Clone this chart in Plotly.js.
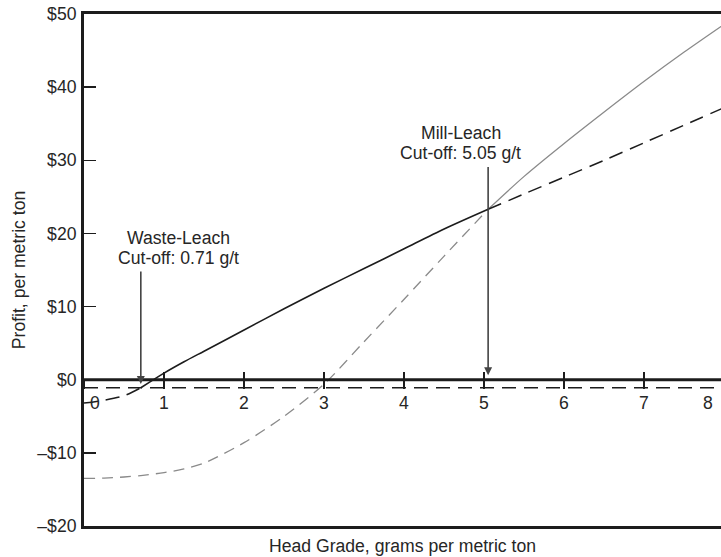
<!DOCTYPE html>
<html>
<head>
<meta charset="utf-8">
<script src="https://cdn.plot.ly/plotly-3.0.1.min.js"></script>
<style>
  html, body { margin: 0; padding: 0; background: #fff; }
  #chart { width: 721px; height: 557px; }
</style>
</head>
<body>
<div id="chart"></div>
<script>
// Head grade (g/t) at which the profit curves are sampled
const grade = [0, 0.25, 0.5, 0.71, 1, 1.25, 1.5, 2, 2.5, 3, 3.5, 4, 4.5, 5.05, 5.5, 6, 6.5, 7, 7.5, 8];
// Profit per metric ton when the ore is heap leached
const leachProfit = [-3.2, -2.8, -2.2, -1.1, 0.9, 2.45, 3.9, 6.8, 9.7, 12.5, 15.2, 17.9, 20.6, 23.3, 25.4, 27.7, 30.0, 32.4, 34.8, 37.2];
// Profit per metric ton when the ore is milled and leached
const millProfit = [-13.5, -13.45, -13.3, -13.1, -12.7, -12.2, -11.4, -8.6, -5.0, -0.6, 5.2, 11.0, 16.9, 23.3, 27.8, 32.3, 36.6, 40.8, 44.8, 48.6];
// Profit per metric ton when the material goes to the waste dump
const wasteGrade = [0, 8];
const wasteProfit = [-1.1, -1.1];
// Break-even level
const zeroGrade = [0, 8];
const zeroProfit = [0, 0];

// Cut-off grades
const wasteLeachCutoff = 0.71;
const millLeachCutoff = 5.05;

// Axis ticks
const xTickVals = [0, 1, 2, 3, 4, 5, 6, 7, 8];
const xTickText = ['0', '1', '2', '3', '4', '5', '6', '7', '8'];
const yTickVals = [-20, -10, 0, 10, 20, 30, 40, 50];
const yTickText = ['\u2013$20', '\u2013$10', '$0', '$10', '$20', '$30', '$40', '$50'];

const FONT = 'Liberation Sans, Arial, Helvetica, sans-serif';
const TEXT = '#262626';
const INK = '#1c1c1c';
const GREY = '#8a8a8a';
const FS = 17.6;

const xMax = 7.96;
const yMin = -20, yMax = 50;
const zeroPos = (0 - yMin) / (yMax - yMin);

// Pick the part of a curve lying between two grades
function segment(xs, ys, lo, hi) {
  const sx = [], sy = [];
  xs.forEach((g, i) => { if (g >= lo && g <= hi) { sx.push(g); sy.push(ys[i]); } });
  return { x: sx, y: sy };
}

function line(seg, color, width, dash) {
  return {
    type: 'scatter', mode: 'lines', x: seg.x, y: seg.y,
    line: { color: color, width: width, dash: dash, shape: 'spline', smoothing: 0.8 },
    hoverinfo: 'skip', showlegend: false
  };
}

const traces = [
  line({ x: wasteGrade, y: wasteProfit }, INK, 1.5, '14px,8px'),
  line(segment(grade, millProfit, 0, millLeachCutoff), GREY, 1.3, '11px,7px'),
  line(segment(grade, millProfit, millLeachCutoff, 8), GREY, 1.3, 'solid'),
  line(segment(grade, leachProfit, 0, wasteLeachCutoff), INK, 1.5, '14px,8px'),
  line(segment(grade, leachProfit, wasteLeachCutoff, millLeachCutoff), INK, 1.6, 'solid'),
  line(segment(grade, leachProfit, millLeachCutoff, 8), INK, 1.5, '14px,8px'),
  line({ x: zeroGrade, y: zeroProfit }, INK, 3, 'solid'),
  // carriers for the extra x axes
  { type: 'scatter', x: [], y: [], xaxis: 'x2', showlegend: false, hoverinfo: 'skip' },
  { type: 'scatter', x: [], y: [], xaxis: 'x3', showlegend: false, hoverinfo: 'skip' }
];

const annotations = [];
// x tick labels sit just under the break-even axis; placed on paper so the last one
// still shows when its grade lies past the right edge
xTickVals.forEach((v, i) => {
  annotations.push({
    x: v / xMax, y: 0, xref: 'paper', yref: 'y', text: xTickText[i], showarrow: false,
    xanchor: 'center', yanchor: 'top', yshift: -11,
    xshift: i === 0 ? 11 : (i === xTickVals.length - 1 ? -16 : 0),
    font: { family: FONT, size: FS, color: TEXT }
  });
});

function cutoffNote(label, cutoff, textX, textY, tailY, tipY) {
  const lines = [label, 'Cut-off: ' + cutoff.toFixed(2) + ' g/t'];
  lines.forEach((t, i) => {
    annotations.push({
      x: textX, y: textY, xref: 'x', yref: 'y', showarrow: false, text: t,
      xanchor: 'center', yanchor: 'middle', yshift: i === 0 ? 10 : -10,
      font: { family: FONT, size: FS, color: TEXT }
    });
  });
  annotations.push({
    x: cutoff, y: tipY, ax: cutoff, ay: tailY, xref: 'x', yref: 'y', axref: 'x', ayref: 'y',
    text: '', showarrow: true, arrowhead: 2, arrowsize: 1, arrowwidth: 1.6, arrowcolor: '#444', standoff: 0
  });
}
cutoffNote('Waste-Leach', wasteLeachCutoff, 1.175, 18.0, 15.0, -0.6);
cutoffNote('Mill-Leach', millLeachCutoff, 4.71, 32.3, 29.3, 0.6);

const layout = {
  width: 721, height: 557,
  margin: { l: 84, r: 0, t: 14, b: 31, pad: 0 },
  paper_bgcolor: '#fff', plot_bgcolor: '#fff',
  font: { family: FONT, size: FS, color: TEXT },
  showlegend: false,
  xaxis: {
    range: [0, xMax], anchor: 'free', position: zeroPos,
    showline: false, zeroline: false, showgrid: false,
    ticks: 'inside', ticklen: 8, tickwidth: 1.5, tickcolor: INK,
    tickvals: xTickVals, showticklabels: false
  },
  xaxis2: {
    overlaying: 'x', matches: 'x', anchor: 'free', position: zeroPos,
    showline: false, zeroline: false, showgrid: false,
    ticks: 'outside', ticklen: 8, tickwidth: 1.5, tickcolor: INK,
    tickvals: xTickVals, showticklabels: false
  },
  xaxis3: {
    overlaying: 'x', matches: 'x', anchor: 'y', side: 'bottom',
    showline: true, linewidth: 3, linecolor: INK, mirror: true,
    zeroline: false, showgrid: false, ticks: '', showticklabels: false,
    title: { text: 'Head Grade, grams per metric ton', standoff: 12, font: { family: FONT, size: FS, color: TEXT } }
  },
  yaxis: {
    range: [yMin, yMax], showline: true, linewidth: 3, linecolor: INK,
    zeroline: false, showgrid: false,
    ticks: 'inside', ticklen: 12, tickwidth: 1.5, tickcolor: INK,
    tickvals: yTickVals, ticktext: yTickText, ticklabelstandoff: 1,
    tickfont: { family: FONT, size: FS, color: TEXT },
    title: { text: 'Profit, per metric ton', standoff: 8, font: { family: FONT, size: FS, color: TEXT } }
  },
  annotations: annotations
};

Plotly.newPlot('chart', traces, layout, { staticPlot: true, displayModeBar: false });
</script>
</body>
</html>
